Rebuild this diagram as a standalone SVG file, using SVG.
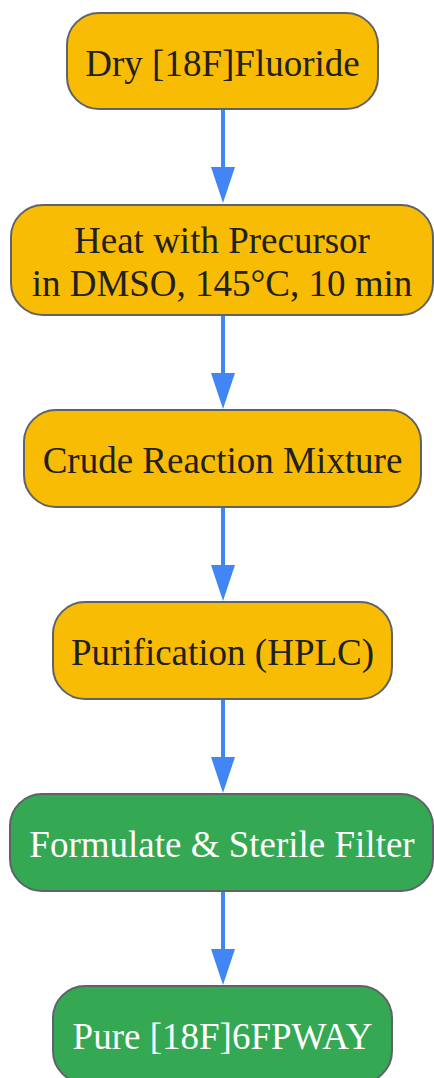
<svg xmlns="http://www.w3.org/2000/svg" width="434" height="1078" viewBox="0 0 434 1078">
<defs>
<style>
.n rect{stroke:#5f6368;stroke-width:2}
.y rect{fill:#F9BC05}
.g rect{fill:#34A853}
text{font-family:"Liberation Serif","Times New Roman",serif;font-size:37px;text-anchor:middle}
.y text{fill:#202124}
.g text{fill:#ffffff}
.e{stroke:#4285F4;stroke-width:4;fill:none}
.h{fill:#4285F4}
</style>
</defs>
<g id="connectors">
<line class="e" x1="223" y1="110" x2="223" y2="168"/><path class="h" d="M211,167 L235,167 L223,203 Z"/>
<line class="e" x1="223" y1="316" x2="223" y2="374"/><path class="h" d="M211,373 L235,373 L223,409 Z"/>
<line class="e" x1="223" y1="508" x2="223" y2="566"/><path class="h" d="M211,565 L235,565 L223,601 Z"/>
<line class="e" x1="223" y1="700" x2="223" y2="758"/><path class="h" d="M211,757 L235,757 L223,793 Z"/>
<line class="e" x1="223" y1="892" x2="223" y2="950"/><path class="h" d="M211,949 L235,949 L223,985 Z"/>
</g>
<g id="n1" class="n y"><rect x="67" y="13" width="311" height="96" rx="32"/><text x="222.5" y="76">Dry [18F]Fluoride</text></g>
<g id="n2" class="n y"><rect x="11" y="205" width="422" height="110" rx="32"/><text x="222" y="253">Heat with Precursor</text><text x="222" y="296">in DMSO, 145°C, 10 min</text></g>
<g id="n3" class="n y"><rect x="24" y="410" width="397" height="97" rx="32"/><text x="222.5" y="473">Crude Reaction Mixture</text></g>
<g id="n4" class="n y"><rect x="53" y="602" width="339" height="97" rx="32"/><text x="222.5" y="665">Purification (HPLC)</text></g>
<g id="n5" class="n g"><rect x="10" y="794" width="423" height="97" rx="32"/><text x="222" y="857">Formulate &amp; Sterile Filter</text></g>
<g id="n6" class="n g"><rect x="53" y="986" width="339" height="97" rx="32"/><text x="222.5" y="1049">Pure [18F]6FPWAY</text></g>
</svg>
